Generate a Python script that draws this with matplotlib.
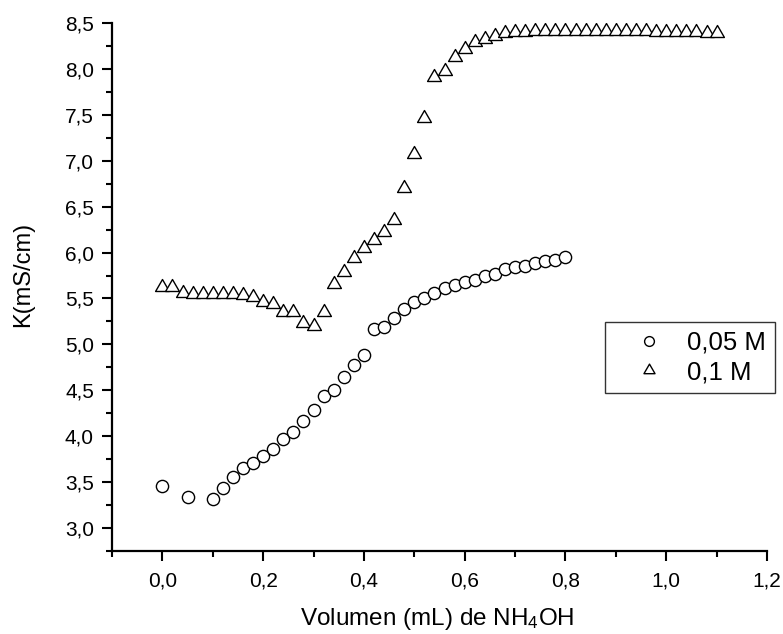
import numpy as np
import matplotlib
matplotlib.use("Agg")
import matplotlib.pyplot as plt
from matplotlib.path import Path
from matplotlib.ticker import MultipleLocator, FuncFormatter

plt.rcParams['font.family'] = ['Liberation Sans', 'DejaVu Sans']
plt.rcParams['mathtext.fontset'] = 'custom'
plt.rcParams['mathtext.rm'] = 'Liberation Sans'
plt.rcParams['mathtext.it'] = 'Liberation Sans:italic'

# 0,05 M series
vol_005 = [0.00, 0.05, 0.10, 0.12, 0.14, 0.16, 0.18, 0.20, 0.22, 0.24, 0.26, 0.28,
           0.30, 0.32, 0.34, 0.36, 0.38, 0.40, 0.42, 0.44, 0.46, 0.48, 0.50, 0.52,
           0.54, 0.56, 0.58, 0.60, 0.62, 0.64, 0.66, 0.68, 0.70, 0.72, 0.74, 0.76,
           0.78, 0.80]
k_005 = [3.46, 3.34, 3.32, 3.44, 3.56, 3.65, 3.71, 3.78, 3.86, 3.97, 4.05, 4.17,
         4.29, 4.44, 4.50, 4.64, 4.78, 4.88, 5.17, 5.19, 5.29, 5.38, 5.46, 5.51,
         5.56, 5.61, 5.65, 5.68, 5.70, 5.74, 5.77, 5.82, 5.84, 5.85, 5.89, 5.91,
         5.92, 5.95]

# 0,1 M series
vol_01 = [0.00, 0.02, 0.04, 0.06, 0.08, 0.10, 0.12, 0.14, 0.16, 0.18, 0.20, 0.22,
          0.24, 0.26, 0.28, 0.30, 0.32, 0.34, 0.36, 0.38, 0.40, 0.42, 0.44, 0.46,
          0.48, 0.50, 0.52, 0.54, 0.56, 0.58, 0.60, 0.62, 0.64, 0.66, 0.68, 0.70,
          0.72, 0.74, 0.76, 0.78, 0.80, 0.82, 0.84, 0.86, 0.88, 0.90, 0.92, 0.94,
          0.96, 0.98, 1.00, 1.02, 1.04, 1.06, 1.08, 1.10]
k_01 = [5.63, 5.62, 5.56, 5.55, 5.55, 5.55, 5.55, 5.55, 5.54, 5.52, 5.46, 5.44,
        5.35, 5.35, 5.23, 5.20, 5.35, 5.66, 5.79, 5.94, 6.05, 6.14, 6.22, 6.36,
        6.70, 7.07, 7.46, 7.91, 7.98, 8.13, 8.22, 8.29, 8.33, 8.36, 8.39, 8.40,
        8.40, 8.41, 8.41, 8.41, 8.41, 8.41, 8.41, 8.41, 8.41, 8.41, 8.41, 8.41,
        8.41, 8.40, 8.40, 8.40, 8.40, 8.40, 8.39, 8.39]

series_labels = ["0,05 M", "0,1 M"]
xlabel = "Volumen (mL) de NH$_\\mathrm{4}$OH"
ylabel = "K(mS/cm)"

W, H = 783, 634
fig = plt.figure(figsize=(W / 100, H / 100), dpi=100)
L, R, T, B = 112, 767, 23, 551
ax = fig.add_axes([L / W, 1 - B / H, (R - L) / W, (B - T) / H])

tri = Path([(-1, -0.5774), (1, -0.5774), (0, 1.1547), (-1, -0.5774)],
           [Path.MOVETO, Path.LINETO, Path.LINETO, Path.CLOSEPOLY])

ax.plot(vol_005, k_005, linestyle='none', marker='o', ms=8.8, mfc='white',
        mec='black', mew=1.0, label=series_labels[0])
ax.plot(vol_01, k_01, linestyle='none', marker=tri, ms=11.5, mfc='white',
        mec='black', mew=1.0, label=series_labels[1])

ax.set_xlim(-0.1, 1.2)
ax.set_ylim(2.75, 8.5)
ax.xaxis.set_major_locator(MultipleLocator(0.2))
ax.xaxis.set_minor_locator(MultipleLocator(0.1))
ax.yaxis.set_major_locator(MultipleLocator(0.5))
ax.yaxis.set_minor_locator(MultipleLocator(0.25))
fmt = FuncFormatter(lambda v, p: f"{v:.1f}".replace('.', ','))
ax.xaxis.set_major_formatter(fmt)
ax.yaxis.set_major_formatter(fmt)

for s in ['top', 'right']:
    ax.spines[s].set_visible(False)
for s in ['left', 'bottom']:
    ax.spines[s].set_linewidth(1.6)

ax.tick_params(which='major', direction='out', length=7, width=1.5,
               labelsize=15)
ax.tick_params(which='minor', direction='out', length=4, width=1.5)
ax.tick_params(axis='x', which='major', pad=8)
ax.tick_params(axis='y', which='major', pad=6)

fig.text(437.5 / W, 1 - 625 / H, xlabel, fontsize=17.5, ha='center',
         va='baseline')
fig.text(23 / W, 1 - 274.5 / H, ylabel, fontsize=17, ha='center',
         va='center', rotation=90)

leg = ax.legend(loc='upper left', bbox_to_anchor=(605 / W, 1 - 322 / H),
                bbox_transform=fig.transFigure, fontsize=18.5, frameon=True,
                fancybox=False, edgecolor='black', borderpad=0.35,
                handlelength=2.7, handletextpad=0.15, labelspacing=0.2,
                markerscale=0.8, borderaxespad=0)
leg.get_frame().set_linewidth(1.0)

fig.savefig("out.png", dpi=100)
